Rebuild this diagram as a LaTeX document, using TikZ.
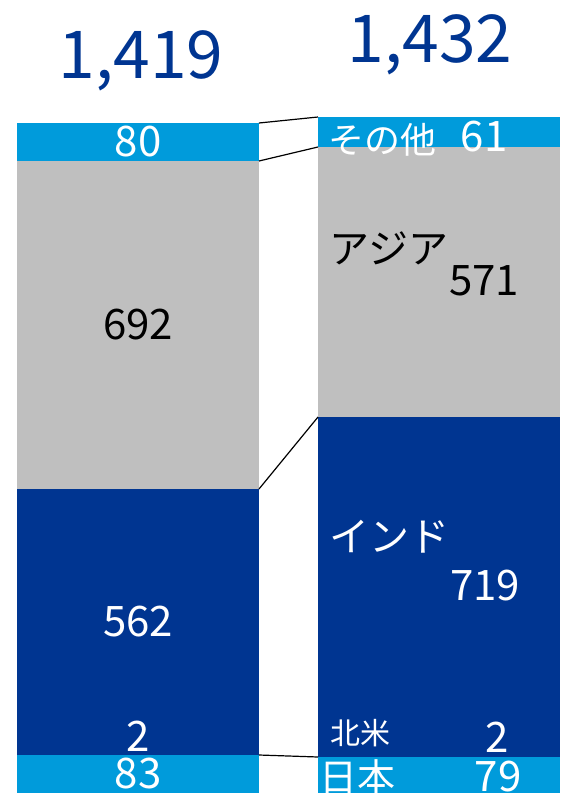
\documentclass[tikz,border=0pt]{standalone}
\usepackage{fontspec}
\setmainfont{Noto Sans CJK JP}
\usetikzlibrary{positioning}
\definecolor{skyblue}{RGB}{0,155,219}
\definecolor{navyblue}{RGB}{0,53,145}
\definecolor{bargray}{RGB}{191,191,191}
\tikzset{
	seg/.style={inner sep=0pt, outer sep=0pt, minimum width=242pt, anchor=north west},
	val/.style={inner sep=0pt, font=\fontsize{42}{50}\selectfont},
	kana/.style={inner sep=0pt, font=\fontsize{40}{48}\selectfont},
	total/.style={inner sep=0pt, text=navyblue, font=\fontsize{66}{78}\selectfont},
	link/.style={line width=1.2pt}
}
\begin{document}
\begin{tikzpicture}[x=1pt, y=1pt]
		\useasboundingbox (0,0) rectangle (562,-793);
		% left bar
		\node[seg, fill=skyblue, minimum height=38pt] (L1) at (17,-123) {};
		\node[seg, fill=bargray, minimum height=328pt, below=0pt of L1] (L2) {};
		\node[seg, fill=navyblue, minimum height=266pt, below=0pt of L2] (L3) {};
		\node[seg, fill=skyblue, minimum height=38pt, below=0pt of L3] (L4) {};
		% right bar
		\node[seg, fill=skyblue, minimum height=30pt] (R1) at (318,-117) {};
		\node[seg, fill=bargray, minimum height=270pt, below=0pt of R1] (R2) {};
		\node[seg, fill=navyblue, minimum height=340pt, below=0pt of R2] (R3) {};
		\node[seg, fill=skyblue, minimum height=36pt, below=0pt of R3] (R4) {};
		\path[link]
		(L1.north east) edge (R1.north west)
		(L1.south east) edge (R1.south west)
		(L2.south east) edge (R2.south west)
		(L3.south east) edge (R3.south west);
		% totals
		\node[total] (tL) at (141,-61) {1,419};
		\node[total] (tR) at (430,-45) {1,432};
		% left values
		\node[val, text=white] (vL1) at (L1) {80};
		\node[val] (vL2) at (L2) {692};
		\node[val, text=white] (vL3) at (L3) {562};
		\node[val, text=white] (vNA) at (138,-736) {2};
		\node[val, text=white] (vL4) at (L4) {83};
		% right values
		\node[kana, text=white, font=\fontsize{36}{44}\selectfont] (kOth) at (382,-140) {その他};
		\node[val, text=white] (vR1) at (484,-137) {61};
		\node[kana] (kAsia) at (389,-248) {アジア};
		\node[val] (vR2) at (484,-281) {571};
		\node[kana, text=white] (kInd) at (389,-537) {インド};
		\node[val, text=white] (vR3) at (485,-586) {719};
		\node[kana, text=white, font=\fontsize{30}{36}\selectfont] (kNA) at (360,-733) {北米};
		\node[val, text=white] (vRNA) at (497,-737) {2};
		\node[kana, text=white, font=\fontsize{38}{46}\selectfont] (kJp) at (357,-777) {日本};
		\node[val, text=white] (vR4) at (498,-777) {79};
	\end{tikzpicture}
\end{document}
